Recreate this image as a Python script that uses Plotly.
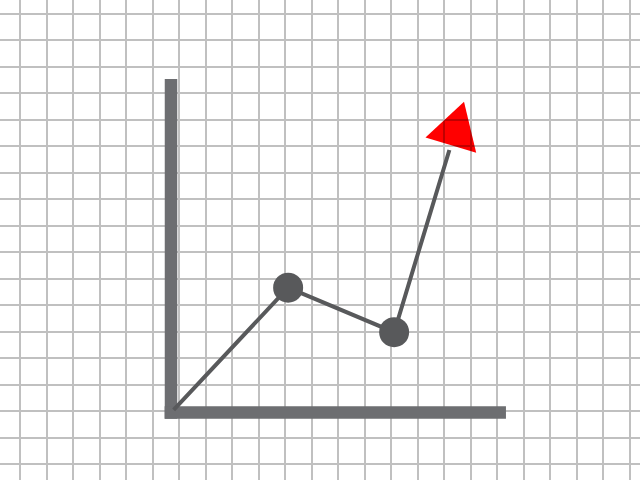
import numpy as np
import plotly.graph_objects as go

# ---- data (chart units: one grid cell = 1) ----
x_vals = [0.1, 4.42, 8.42, 11.057]
y_vals = [0.1, 4.71, 3.03, 11.728]
dot_idx = [1, 2]
axis_x_len = 12.64
axis_y_len = 12.585
axis_overhang = -0.24

# arrow head style (in grid units)
HEAD_LEN = 1.713
HEAD_HALF = 1.0
LINE_GAP = 0.19

GRAY = "#58595b"
BAR = "#6d6e71"
GRID = "#c0c0c0"

# arrow head geometry derived from the last segment of the series
tip = np.array([x_vals[-1], y_vals[-1]])
prev = np.array([x_vals[-2], y_vals[-2]])
d = (tip - prev) / np.linalg.norm(tip - prev)
n = np.array([d[1], -d[0]])
base = tip - HEAD_LEN * d
c1 = base - HEAD_HALF * n
c2 = base + HEAD_HALF * n
line_end = tip - (HEAD_LEN + LINE_GAP) * d

fig = go.Figure()

# axes bars
fig.add_trace(go.Scatter(
    x=[0, 0, None, axis_overhang, axis_x_len],
    y=[axis_overhang, axis_y_len, None, 0, 0],
    mode="lines", line=dict(color=BAR, width=12.5),
    hoverinfo="skip", showlegend=False))

# series line (stops short of the arrow head)
fig.add_trace(go.Scatter(
    x=x_vals[:-1] + [line_end[0]], y=y_vals[:-1] + [line_end[1]], mode="lines",
    line=dict(color=GRAY, width=4),
    hoverinfo="skip", showlegend=False))

# dots
fig.add_trace(go.Scatter(
    x=[x_vals[i] for i in dot_idx], y=[y_vals[i] for i in dot_idx],
    mode="markers", marker=dict(size=30, color=GRAY, line=dict(width=0)),
    hoverinfo="skip", showlegend=False))

# red arrow head
fig.add_trace(go.Scatter(
    x=[c1[0], tip[0], c2[0]], y=[c1[1], tip[1], c2[1]],
    mode="lines", fill="toself", fillcolor="#ff0000",
    line=dict(width=0, color="#ff0000"), cliponaxis=False,
    hoverinfo="skip", showlegend=False))

xr = [-171 / 26.5, 469 / 26.5]
yr = [-67.5 / 26.5, 412.5 / 26.5]

base_ax = dict(showticklabels=False, ticks="", zeroline=False, showline=False,
               fixedrange=True, showgrid=True, gridcolor=GRID, gridwidth=2, dtick=1)

fig.update_layout(
    template="none",
    width=640, height=480, autosize=False,
    margin=dict(l=0, r=0, t=0, b=0, pad=0),
    paper_bgcolor="white", plot_bgcolor="white",
    xaxis=dict(range=xr, tick0=0.302, **base_ax),
    yaxis=dict(range=yr, tick0=0.038, **base_ax),
)

post = """
document.body.style.margin='0';document.body.style.padding='0';
var gd=document.getElementById('{plot_id}');
var traces=gd.querySelectorAll('.scatterlayer .trace');
var last=traces[traces.length-1];
var p=last;
while(p && p.tagName && p.tagName.toLowerCase()!=='svg'){p.removeAttribute('clip-path');p.style.clipPath='none';p=p.parentNode;}
last.querySelectorAll('path').forEach(function(el){el.removeAttribute('clip-path');el.style.mixBlendMode='multiply';});
"""

fig.write_html("out.html", config={"displayModeBar": False, "staticPlot": True},
               post_script=post)
